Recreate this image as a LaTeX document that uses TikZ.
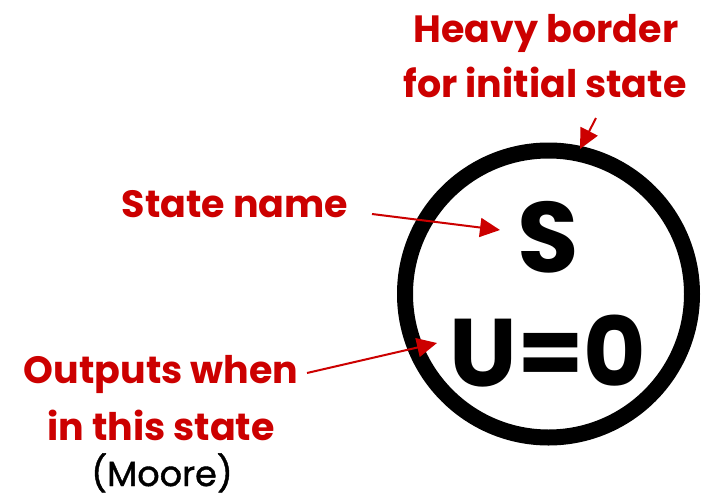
\documentclass[tikz,border=0pt]{standalone}
\usepackage{fontspec}
\setmainfont{Poppins}
\newfontfamily\moorefont[FakeBold=1.2]{Poppins}
\usetikzlibrary{arrows.meta}
\definecolor{annred}{RGB}{204,0,0}
\begin{document}
\begin{tikzpicture}[x=1pt,y=-1pt,
  ann/.style={text=annred, font=\bfseries\fontsize{38}{44}\selectfont, inner sep=0pt},
  plain/.style={text=black, font=\moorefont\fontsize{35}{42}\selectfont, inner sep=0pt},
  big/.style={text=black, font=\bfseries\fontsize{100}{110}\selectfont, inner sep=0pt},
  bigout/.style={text=black, font=\bfseries\fontsize{96}{110}\selectfont, inner sep=0pt},
  pointer/.style={draw=annred, line width=2pt, -{Triangle[length=20pt,width=19pt]}},
  statecircle/.style={circle, draw=black, line width=16pt, minimum size=287pt, inner sep=0pt}]
\useasboundingbox[fill=white] (0,0) rectangle (716,499);
% state
\node[statecircle] (st) at (548.5,294) {};
\node[big, anchor=base] (sname) at (548,272) {S};
\node[bigout, anchor=base] (sout) at (548,386) {U=0};
% annotations
\node[ann, anchor=base] (hb1) at (546,42) {Heavy border};
\node[ann, anchor=base] (hb2) at (545,97) {for initial state};
\node[ann, anchor=base] (sn) at (235,217) {State name};
\node[ann, anchor=base] (ow1) at (161,383) {Outputs when};
\node[ann, anchor=base] (ow2) at (161,440) {in this state};
\node[plain, anchor=base] (moore) at (162,486) {(Moore)};
% pointers
\coordinate (a1s) at (596,118);
\coordinate (a1t) at (580,149);
\coordinate (a2s) at (372,214);
\coordinate (a2t) at (500,230);
\coordinate (a3s) at (307,373);
\coordinate (a3t) at (437,343);
\draw[pointer] (a1s) -- (a1t);
\draw[pointer] (a2s) -- (a2t);
\draw[pointer] (a3s) -- (a3t);
\end{tikzpicture}
\end{document}
